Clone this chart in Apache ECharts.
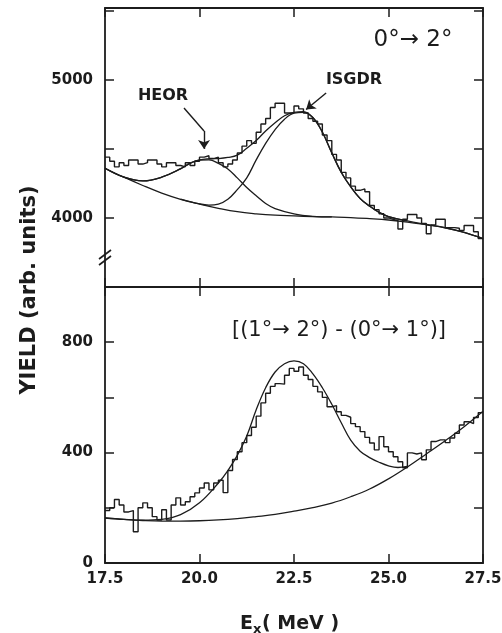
<!DOCTYPE html>
<html>
<head>
<meta charset="utf-8">
<script src="https://cdn.jsdelivr.net/npm/echarts@6/dist/echarts.min.js"></script>
<style>
  html, body { margin: 0; padding: 0; background: #fff; }
  #chart { width: 502px; height: 633px; }
</style>
</head>
<body>
<div id="chart"></div>
<script>
// histogram bins (MeV)
var binStart = 17.5
var binWidth = 0.125

// 0 -> 2 deg spectrum, counts per bin
var topCounts = [
  4440, 4410, 4370, 4400, 4380, 4420, 4420, 4390,
  4400, 4420, 4420, 4390, 4370, 4400, 4400, 4380,
  4370, 4400, 4380, 4410, 4440, 4450, 4430, 4440,
  4400, 4370, 4390, 4420, 4470, 4520, 4560, 4540,
  4620, 4680, 4720, 4800, 4830, 4830, 4760, 4760,
  4810, 4790, 4760, 4720, 4700, 4680, 4600, 4560,
  4460, 4420, 4330, 4290, 4230, 4200, 4210, 4190,
  4090, 4060, 4030, 4000, 3990, 3980, 3920, 3990,
  4025, 4025, 4000, 3960, 3885, 3950, 3990, 3990,
  3930, 3930, 3925, 3910, 3945, 3945, 3900, 3850
]

// difference spectrum [(1->2) - (0->1)]
var bottomCounts = [
  190, 200, 230, 210, 185, 190, 113, 200,
  218, 200, 168, 156, 193, 156, 210, 236,
  210, 222, 240, 254, 272, 290, 265, 290,
  300, 255, 335, 375, 403, 436, 462, 492,
  532, 580, 615, 640, 650, 648, 680, 705,
  695, 710, 680, 665, 640, 620, 600, 566,
  570, 548, 535, 528, 505, 494, 476, 455,
  435, 410, 458, 421, 403, 385, 367, 345,
  399, 395, 399, 374, 410, 440, 446, 446,
  436, 453, 470, 500, 512, 505, 527, 545
]

// fitted curves, [Ex, yield]
var topBackground = [
  [17.5, 4360], [18, 4295], [18.5, 4235], [19, 4180], [19.5, 4135], [20, 4100],
  [20.5, 4070], [21, 4045], [21.5, 4030], [22, 4020], [22.5, 4015], [23, 4010],
  [23.5, 4007], [24, 4003], [24.5, 3995], [25, 3985], [25.5, 3970], [26, 3950],
  [26.5, 3928], [27, 3895], [27.5, 3850]
]
var heorFit = [
  [17.5, 4360], [18, 4295], [18.5, 4268], [19, 4295], [19.5, 4355], [19.75, 4395],
  [20, 4418], [20.25, 4420], [20.5, 4395], [20.75, 4355], [21, 4290], [21.25, 4220],
  [21.5, 4160], [21.75, 4105], [22, 4068], [22.5, 4030], [23, 4012], [23.5, 4007]
]
var isgdrFit = [
  [19.5, 4137], [20, 4102], [20.25, 4093], [20.5, 4100], [20.75, 4135], [21, 4205],
  [21.25, 4290], [21.5, 4420], [21.75, 4540], [22, 4640], [22.25, 4715], [22.5, 4758],
  [22.75, 4765], [23, 4725], [23.25, 4620], [23.5, 4470], [23.75, 4330], [24, 4225],
  [24.25, 4140], [24.5, 4085], [24.75, 4040], [25, 4010], [25.5, 3978], [26, 3953],
  [26.5, 3929], [27, 3895], [27.5, 3850]
]
var topTotal = [
  [17.5, 4360], [18, 4295], [18.5, 4268], [19, 4295], [19.5, 4357], [19.75, 4397],
  [20, 4420], [20.25, 4428], [20.5, 4430], [20.75, 4438], [21, 4455], [21.25, 4505],
  [21.5, 4560], [21.75, 4630], [22, 4690], [22.25, 4740], [22.5, 4765], [22.75, 4770],
  [23, 4728], [23.25, 4622], [23.5, 4472], [23.75, 4331], [24, 4226], [24.25, 4141],
  [24.5, 4086], [24.75, 4041], [25, 4010], [25.5, 3978]
]
var bottomBackground = [
  [17.5, 163], [18, 158], [18.5, 154], [19, 152], [19.5, 152], [20, 153],
  [20.5, 156], [21, 161], [21.5, 168], [22, 176], [22.5, 188], [23, 201],
  [23.5, 217], [24, 240], [24.5, 268], [25, 305], [25.5, 348], [26, 395],
  [26.5, 443], [27, 494], [27.5, 550]
]
var bottomTotal = [
  [17.5, 163], [18, 158], [18.5, 155], [19, 158], [19.5, 175], [20, 218],
  [20.5, 290], [20.75, 335], [21, 390], [21.25, 460], [21.5, 555], [21.75, 635],
  [22, 692], [22.25, 722], [22.5, 732], [22.75, 722], [23, 685], [23.25, 635],
  [23.5, 575], [23.75, 508], [24, 445], [24.25, 405], [24.5, 382], [24.75, 365],
  [25, 352], [25.25, 346], [25.5, 350]
]

// tick labels
var topLabels = [4000, 5000]
var bottomLabels = [0, 400, 800]

var ink = '#1c1c1c'
var font = 'DejaVu Sans'

function histData (counts) {
  var d = counts.map(function (v, i) {
    return [binStart + i * binWidth, v]
  })
  d.push([binStart + counts.length * binWidth, counts[counts.length - 1]])
  return d
}

function curve (data, xi) {
  return {
    type: 'line', xAxisIndex: xi, yAxisIndex: xi, data: data,
    smooth: 0.4, symbol: 'none', silent: true,
    lineStyle: { color: ink, width: 1.3 }
  }
}

function xAxisDef (grid, pos, showLabel) {
  return {
    type: 'value', gridIndex: grid, position: pos,
    min: 17.5, max: 27.5, interval: 2.5,
    axisLine: { show: true, onZero: false, lineStyle: { color: ink, width: 1.8 } },
    axisTick: { show: true, inside: true, length: 9, lineStyle: { color: ink, width: 1.5 } },
    splitLine: { show: false },
    axisLabel: {
      show: showLabel, margin: 9, color: ink, fontFamily: font, fontWeight: 'bold', fontSize: 15,
      showMinLabel: true, showMaxLabel: true,
      formatter: function (v) { return v.toFixed(1) }
    }
  }
}

function yAxisDef (grid, pos, min, max, interval, labels) {
  return {
    type: 'value', gridIndex: grid, position: pos,
    min: min, max: max, interval: interval,
    axisLine: { show: true, onZero: false, lineStyle: { color: ink, width: 1.8 } },
    axisTick: { show: true, inside: true, length: 9, lineStyle: { color: ink, width: 1.5 } },
    splitLine: { show: false },
    axisLabel: {
      show: !!labels, margin: 12, color: ink, fontFamily: font, fontWeight: 'bold', fontSize: 15,
      formatter: function (v) { return labels && labels.indexOf(v) >= 0 ? String(v) : '' }
    }
  }
}

var chart = echarts.init(document.getElementById('chart'), null, { renderer: 'canvas' })

var txt = { fill: ink, fontFamily: font, fontWeight: 'bold' }
function label (x, y, text, size, extra) {
  var s = Object.assign({ text: text, fontSize: size, align: 'center', verticalAlign: 'middle' }, txt, extra || {})
  return { type: 'text', x: x, y: y, style: s, silent: true }
}

var yTitle = label(30, 290, 'YIELD (arb. units)', 21)
yTitle.rotation = Math.PI / 2

var option = {
  animation: false,
  backgroundColor: '#fff',
  grid: [
    { left: 105, top: 8, width: 378, height: 279, outerBoundsMode: 'none' },
    { left: 105, top: 287, width: 378, height: 276, outerBoundsMode: 'none' }
  ],
  xAxis: [
    xAxisDef(0, 'bottom', false),
    xAxisDef(1, 'bottom', true),
    xAxisDef(0, 'top', false),
    xAxisDef(1, 'top', false)
  ],
  yAxis: [
    yAxisDef(0, 'left', 3500, 5520, 500, topLabels),
    yAxisDef(1, 'left', 0, 1000, 200, bottomLabels),
    yAxisDef(0, 'right', 3500, 5520, 500, null),
    yAxisDef(1, 'right', 0, 1000, 200, null)
  ],
  series: [
    {
      type: 'line', xAxisIndex: 0, yAxisIndex: 0, data: histData(topCounts),
      step: 'end', symbol: 'none', silent: true,
      lineStyle: { color: ink, width: 1.4 },
      markLine: {
        silent: true, symbol: ['none', 'none'], symbolSize: 9,
        label: { show: false },
        lineStyle: { color: ink, width: 1.4, type: 'solid' },
        data: [
          [{ coord: [19.59, 4796] }, { coord: [20.12, 4630] }],
          [{ coord: [20.12, 4630] }, { coord: [20.12, 4500], symbol: 'arrow' }],
          [{ coord: [23.35, 4905] }, { coord: [22.82, 4785], symbol: 'arrow' }]
        ]
      }
    },
    curve(topBackground, 0),
    curve(heorFit, 0),
    curve(isgdrFit, 0),
    curve(topTotal, 0),
    {
      type: 'line', xAxisIndex: 1, yAxisIndex: 1, data: histData(bottomCounts),
      step: 'end', symbol: 'none', silent: true,
      lineStyle: { color: ink, width: 1.4 }
    },
    curve(bottomBackground, 1),
    curve(bottomTotal, 1)
  ],
  graphic: [
    label(163, 96, 'HEOR', 16),
    label(354, 80, 'ISGDR', 16),
    label(413, 40, '0°→ 2°', 23, { fontWeight: 'normal' }),
    label(339, 331, '[(1°→ 2°) - (0°→ 1°)]', 21, { fontWeight: 'normal' }),
    yTitle,
    { type: 'text', x: 240, y: 624, style: Object.assign({ text: 'E', fontSize: 19, verticalAlign: 'middle' }, txt), silent: true },
    { type: 'text', x: 253, y: 630, style: Object.assign({ text: 'x', fontSize: 13, verticalAlign: 'middle' }, txt), silent: true },
    { type: 'text', x: 262, y: 624, style: Object.assign({ text: '( MeV )', fontSize: 19, verticalAlign: 'middle' }, txt), silent: true },
    // axis break on the left spine
    { type: 'line', shape: { x1: 99, y1: 259, x2: 111, y2: 250 }, style: { stroke: ink, lineWidth: 1.6 }, silent: true },
    { type: 'line', shape: { x1: 99, y1: 265, x2: 111, y2: 256 }, style: { stroke: ink, lineWidth: 1.6 }, silent: true }
  ]
}

chart.setOption(option)
</script>
</body>
</html>
